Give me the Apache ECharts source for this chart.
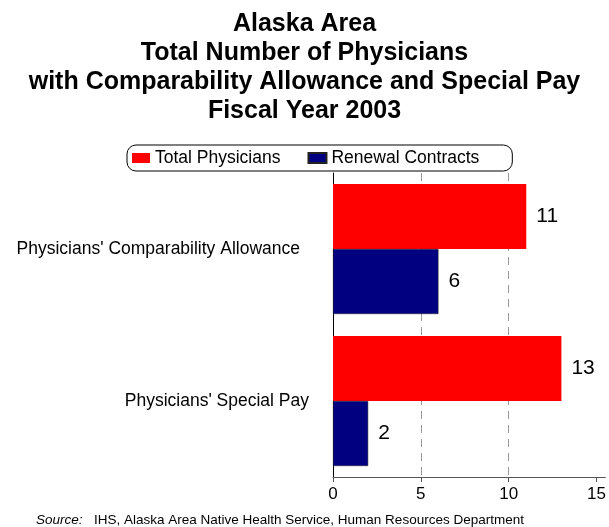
<!DOCTYPE html>
<html>
<head>
<meta charset="utf-8">
<script src="https://cdn.jsdelivr.net/npm/echarts@6/dist/echarts.min.js"></script>
<style>
  html, body { margin: 0; padding: 0; background: #fff; }
  #chart { width: 609px; height: 527px; }
</style>
</head>
<body>
<div id="chart"></div>
<script>
// Physician counts by pay programme, Alaska Area, FY 2003
var categories = ["Physicians' Comparability Allowance", "Physicians' Special Pay"];
var totalPhysicians = [11, 13];
var renewalContracts = [6, 2];
var xTicks = [0, 5, 10, 15];

var font = 'Liberation Sans, Arial, sans-serif';
var chart = echarts.init(document.getElementById('chart'), null, { renderer: 'canvas' });

chart.setOption({
  backgroundColor: '#ffffff',
  animation: false,
  textStyle: { fontFamily: font },
  title: {
    text: 'Alaska Area\nTotal Number of Physicians\nwith Comparability Allowance and Special Pay\nFiscal Year 2003',
    left: 'center',
    top: 5,
    textStyle: { fontFamily: font, fontSize: 25, fontWeight: 'bold', color: '#000', lineHeight: 29 }
  },
  legend: {
    left: 127,
    top: 145,
    padding: [4, 33, 4, 5],
    itemGap: 27,
    itemWidth: 18,
    itemHeight: 10,
    borderColor: '#000',
    borderWidth: 1,
    borderRadius: 9,
    icon: 'rect',
    textStyle: { fontFamily: font, fontSize: 17.5, color: '#000' },
    data: ['Total Physicians', 'Renewal Contracts']
  },
  grid: { left: 333, right: 1, top: 173, bottom: 50, containLabel: false },
  xAxis: {
    type: 'value',
    min: 0,
    max: 15.5,
    interval: 5,
    axisLine: { show: true, lineStyle: { color: '#555', width: 1 } },
    axisTick: { show: true, length: 5, customValues: xTicks, lineStyle: { color: '#555' } },
    axisLabel: { customValues: xTicks, fontFamily: font, fontSize: 17, color: '#000', margin: 9 },
    splitLine: { show: true, showMinLine: false, showMaxLine: false, lineStyle: { color: '#999', type: [8, 6], width: 1 } }
  },
  yAxis: {
    type: 'category',
    inverse: true,
    data: categories,
    axisLine: { show: true, lineStyle: { color: '#000', width: 1 } },
    axisTick: { show: false },
    axisLabel: {
      margin: 24,
      fontFamily: font,
      fontSize: 17.5,
      color: '#000',
      formatter: function (v, i) { return i === 0 ? '{a|' + v + '}' : '{b|' + v + '}'; },
      rich: {
        a: { fontFamily: font, fontSize: 17.5, color: '#000', padding: [0, 9, 0, 0] },
        b: { fontFamily: font, fontSize: 17.5, color: '#000' }
      }
    }
  },
  series: [
    {
      name: 'Total Physicians',
      type: 'bar',
      data: totalPhysicians,
      barWidth: 65,
      barGap: '0%',
      itemStyle: { color: '#ff0000' },
      label: { show: true, position: 'right', distance: 10, fontFamily: font, fontSize: 21, color: '#000' }
    },
    {
      name: 'Renewal Contracts',
      type: 'bar',
      data: renewalContracts,
      barWidth: 65,
      barGap: '0%',
      itemStyle: { color: '#000080', borderColor: '#222', borderWidth: 0.5 },
      label: { show: true, position: 'right', distance: 10, fontFamily: font, fontSize: 21, color: '#000' }
    }
  ],
  graphic: [
    {
      type: 'text', left: 36, top: 513,
      style: { text: 'Source:', fontFamily: font, fontSize: 13.5, fontStyle: 'italic', fill: '#000' }
    },
    {
      type: 'text', left: 94, top: 513,
      style: { text: 'IHS, Alaska Area Native Health Service, Human Resources Department', fontFamily: font, fontSize: 13.5, fill: '#000' }
    }
  ]
});
</script>
</body>
</html>
